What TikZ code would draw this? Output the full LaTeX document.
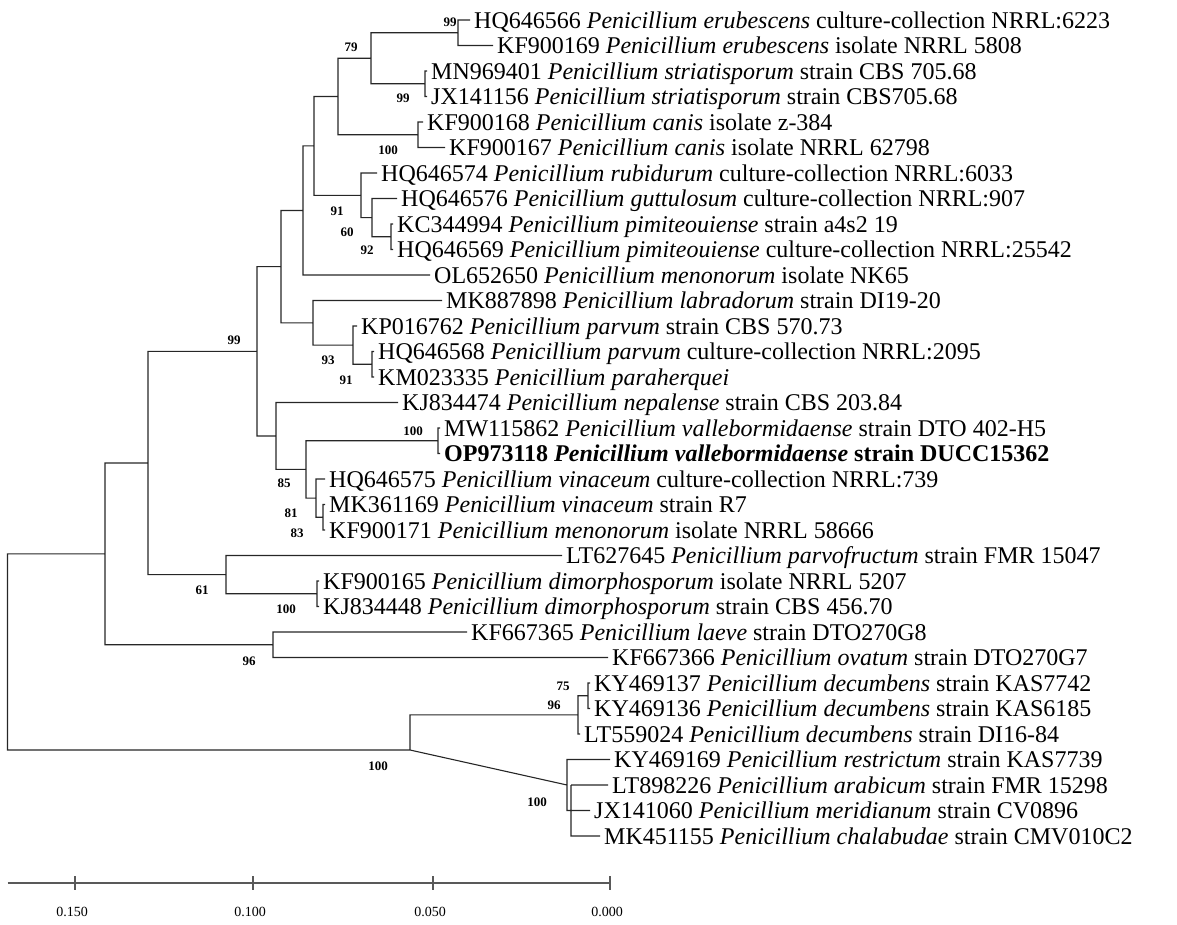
\documentclass[tikz,border=0pt]{standalone}
\usepackage{fontspec}
\setmainfont{Liberation Serif}
\usetikzlibrary{positioning}
\newcommand{\pen}[1]{\textit{Penicillium #1}}

\begin{document}
\begin{tikzpicture}[
        x = 1pt, y = -1pt,
        branch/.style = {draw = black!85, line width = 1.1pt},
        leaf/.style = {anchor = west, inner xsep = 4pt, inner ysep = 0pt,
          text height = 16pt, text depth = 0pt,
          font = \fontsize{24}{25}\selectfont},
        boot/.style = {inner sep = 0pt, font = \fontsize{13}{13}\selectfont\bfseries},
        tick/.style = {inner sep = 0pt, font = \fontsize{14}{14}\selectfont}]

      \useasboundingbox (0,0) rectangle (1177,924);

      %internal nodes
      \coordinate (nA) at (458,32.75);
      \coordinate (nStr) at (425,83.75);
      \coordinate (nB) at (371,58.25);
      \coordinate (nCan) at (418,134.75);
      \coordinate (nC) at (338,96.5);
      \coordinate (nG) at (391,236.75);
      \coordinate (nF) at (372,217.6);
      \coordinate (nE) at (361,195.3);
      \coordinate (nD) at (314,145.9);
      \coordinate (nH) at (303,210.5);
      \coordinate (nL) at (372,364.25);
      \coordinate (nK) at (353,345.1);
      \coordinate (nJ) at (313,322.8);
      \coordinate (nI) at (281,266.6);
      \coordinate (nP) at (438,440.75);
      \coordinate (nS) at (323,517.25);
      \coordinate (nQ) at (316,498.1);
      \coordinate (nO) at (306,469.4);
      \coordinate (nN) at (276,436);
      \coordinate (nM) at (257,351.3);
      \coordinate (nW) at (317,593.75);
      \coordinate (nV) at (226,574.6);
      \coordinate (nT) at (148,463);
      \coordinate (nX) at (273,644.75);
      \coordinate (nU) at (105,553.9);
      \coordinate (nZ) at (588,695.75);
      \coordinate (nY) at (578,714.9);
      \coordinate (nBB) at (567,785);
      \coordinate (nCC) at (571,785);
      \coordinate (nAA) at (410,750);
      \coordinate (root) at (7.5,652);

      %leaves
      \node[leaf] (l1) at (470,20) {HQ646566 \pen{erubescens} culture-collection NRRL:6223};
      \node[leaf] (l2) at (493,45.5) {KF900169 \pen{erubescens} isolate NRRL 5808};
      \node[leaf] (l3) at (427,71) {MN969401 \pen{striatisporum} strain CBS 705.68};
      \node[leaf] (l4) at (427,96.5) {JX141156 \pen{striatisporum} strain CBS705.68};
      \node[leaf] (l5) at (423,122) {KF900168 \pen{canis} isolate z-384};
      \node[leaf] (l6) at (445,147.5) {KF900167 \pen{canis} isolate NRRL 62798};
      \node[leaf] (l7) at (377,173) {HQ646574 \pen{rubidurum} culture-collection NRRL:6033};
      \node[leaf] (l8) at (397,198.5) {HQ646576 \pen{guttulosum} culture-collection NRRL:907};
      \node[leaf] (l9) at (393,224) {KC344994 \pen{pimiteouiense} strain a4s2 19};
      \node[leaf] (l10) at (393,249.5) {HQ646569 \pen{pimiteouiense} culture-collection NRRL:25542};
      \node[leaf] (l11) at (430,275) {OL652650 \pen{menonorum} isolate NK65};
      \node[leaf] (l12) at (442,300.5) {MK887898 \pen{labradorum} strain DI19-20};
      \node[leaf] (l13) at (357,326) {KP016762 \pen{parvum} strain CBS 570.73};
      \node[leaf] (l14) at (374,351.5) {HQ646568 \pen{parvum} culture-collection NRRL:2095};
      \node[leaf] (l15) at (374,377) {KM023335 \pen{paraherquei}};
      \node[leaf] (l16) at (398,402.5) {KJ834474 \pen{nepalense} strain CBS 203.84};
      \node[leaf] (l17) at (440,428) {MW115862 \pen{vallebormidaense} strain DTO 402-H5};
      \node[leaf] (l18) at (440,453.5) {\bfseries OP973118 \pen{vallebormidaense} strain DUCC15362};
      \node[leaf] (l19) at (325,479) {HQ646575 \pen{vinaceum} culture-collection NRRL:739};
      \node[leaf] (l20) at (325,504.5) {MK361169 \pen{vinaceum} strain R7};
      \node[leaf] (l21) at (325,530) {KF900171 \pen{menonorum} isolate NRRL 58666};
      \node[leaf] (l22) at (562,555.5) {LT627645 \pen{parvofructum} strain FMR 15047};
      \node[leaf] (l23) at (319,581) {KF900165 \pen{dimorphosporum} isolate NRRL 5207};
      \node[leaf] (l24) at (319,606.5) {KJ834448 \pen{dimorphosporum} strain CBS 456.70};
      \node[leaf] (l25) at (467,632) {KF667365 \pen{laeve} strain DTO270G8};
      \node[leaf] (l26) at (608,657.5) {KF667366 \pen{ovatum} strain DTO270G7};
      \node[leaf] (l27) at (590,683) {KY469137 \pen{decumbens} strain KAS7742};
      \node[leaf] (l28) at (590,708.5) {KY469136 \pen{decumbens} strain KAS6185};
      \node[leaf] (l29) at (580,734) {LT559024 \pen{decumbens} strain DI16-84};
      \node[leaf] (l30) at (610,759.5) {KY469169 \pen{restrictum} strain KAS7739};
      \node[leaf] (l31) at (608,785) {LT898226 \pen{arabicum} strain FMR 15298};
      \node[leaf] (l32) at (590,810.5) {JX141060 \pen{meridianum} strain CV0896};
      \node[leaf] (l33) at (600,836) {MK451155 \pen{chalabudae} strain CMV010C2};

      %bootstrap values
      \node[boot] (bA) at (450,22) {99};
      \node[boot] (bB) at (351,47) {79};
      \node[boot] (bStr) at (403,98) {99};
      \node[boot] (bCan) at (388,150) {100};
      \node[boot] (bE) at (337,211) {91};
      \node[boot] (bF) at (347,232) {60};
      \node[boot] (bG) at (367,250) {92};
      \node[boot] (bM) at (234,340) {99};
      \node[boot] (bK) at (328,360) {93};
      \node[boot] (bL) at (346,380) {91};
      \node[boot] (bP) at (413,431) {100};
      \node[boot] (bO) at (284,483) {85};
      \node[boot] (bQ) at (291,513) {81};
      \node[boot] (bS) at (297,533) {83};
      \node[boot] (bV) at (202,590) {61};
      \node[boot] (bW) at (286,609) {100};
      \node[boot] (bX) at (249,661) {96};
      \node[boot] (bZ) at (563,686) {75};
      \node[boot] (bY) at (554,705) {96};
      \node[boot] (bAA) at (378,766) {100};
      \node[boot] (bBB) at (537,802) {100};

      %branches
      \path[branch]
        (root) |- (nU)   (root) |- (nAA)
        (nU) |- (nT)     (nU) |- (nX)
        (nT) |- (nM)     (nT) |- (nV)
        (nM) |- (nI)     (nM) |- (nN)
        (nI) |- (nH)     (nI) |- (nJ)
        (nH) |- (nD)     (nH) |- (l11.west)
        (nD) |- (nC)     (nD) |- (nE)
        (nC) |- (nB)     (nC) |- (nCan)
        (nB) |- (nA)     (nB) |- (nStr)
        (nA) |- (l1.west)   (nA) |- (l2.west)
        (nStr) |- (l3.west) (nStr) |- (l4.west)
        (nCan) |- (l5.west) (nCan) |- (l6.west)
        (nE) |- (l7.west)   (nE) |- (nF)
        (nF) |- (l8.west)   (nF) |- (nG)
        (nG) |- (l9.west)   (nG) |- (l10.west)
        (nJ) |- (l12.west)  (nJ) |- (nK)
        (nK) |- (l13.west)  (nK) |- (nL)
        (nL) |- (l14.west)  (nL) |- (l15.west)
        (nN) |- (l16.west)  (nN) |- (nO)
        (nO) |- (nP)        (nO) |- (nQ)
        (nP) |- (l17.west)  (nP) |- (l18.west)
        (nQ) |- (l19.west)  (nQ) |- (nS)
        (nS) |- (l20.west)  (nS) |- (l21.west)
        (nV) |- (l22.west)  (nV) |- (nW)
        (nW) |- (l23.west)  (nW) |- (l24.west)
        (nX) |- (l25.west)  (nX) |- (l26.west)
        (nAA) |- (nY)       (nAA) -- (nBB)
        (nY) |- (nZ)        (nY) |- (l29.west)
        (nZ) |- (l27.west)  (nZ) |- (l28.west)
        (nBB) |- (l30.west) (nBB) |- (l32.west)
        (nCC) -- (l31.west) (nCC) |- (l33.west)
        ;

      %scale bar
      \coordinate (s0) at (7.5,883);
      \coordinate (s1) at (610,883);
      \draw[branch, draw = black!65] (s0) -- (s1);
      \foreach \x/\v in {75/0.150, 253/0.100, 433/0.050, 610/0.000}{
        \draw[branch, draw = black!65] (\x,876) -- (\x,890);
        \node[tick] (t\x) at (\x-3,912) {\v};
      }
    \end{tikzpicture}
\end{document}
